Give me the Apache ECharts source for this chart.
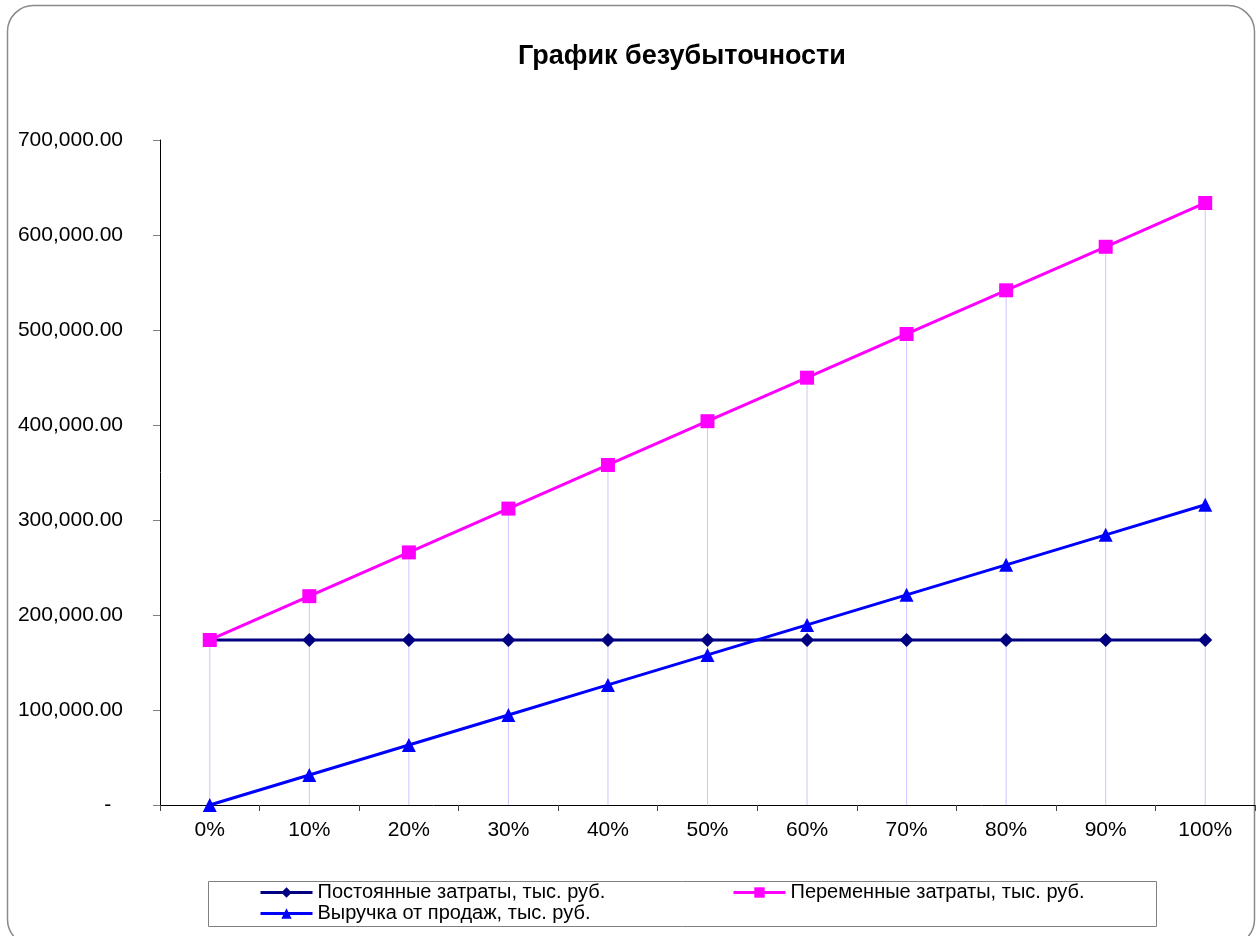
<!DOCTYPE html>
<html>
<head>
<meta charset="utf-8">
<script src="https://cdn.jsdelivr.net/npm/echarts@6/dist/echarts.min.js"></script>
<style>
  html, body { margin: 0; padding: 0; background: #fff; }
  #chart { width: 1259px; height: 936px; }
</style>
</head>
<body>
<div id="chart"></div>
<script>
// Sales volume share
const categories = ['0%', '10%', '20%', '30%', '40%', '50%', '60%', '70%', '80%', '90%', '100%'];

// Fixed costs, thousand roubles
const fixedCosts = [173700, 173700, 173700, 173700, 173700, 173700, 173700, 173700, 173700, 173700, 173700];

// Variable (total) costs, thousand roubles
const variableCosts = [173700, 219800, 265900, 312000, 357900, 404000, 449800, 495800, 541800, 587600, 633700];

// Sales revenue, thousand roubles
const revenue = [0, 31600, 63200, 94800, 126400, 158000, 189600, 221200, 252800, 284400, 316000];

const seriesNames = [
  'Постоянные затраты, тыс. руб.',
  'Переменные затраты, тыс. руб.',
  'Выручка от продаж, тыс. руб.'
];

const yTicks = { min: 0, max: 700000, interval: 100000 };

// Drop lines reach from the axis up to the highest point of each category
const dropTop = categories.map((_, i) => Math.max(fixedCosts[i], variableCosts[i], revenue[i]));

const FONT = "'Liberation Sans', Arial, sans-serif";

function formatMoney(v) {
  if (v === 0) return '-  ';
  const parts = v.toFixed(2).split('.');
  return parts[0].replace(/\B(?=(\d{3})+(?!\d))/g, ',') + '.' + parts[1];
}

const legendCommon = {
  orient: 'vertical',
  top: 882,
  padding: 0,
  itemGap: 0,
  itemWidth: 52,
  itemHeight: 13,
  z: 5,
  lineStyle: { width: 3 },
  textStyle: { fontFamily: FONT, fontSize: 20, color: '#000', lineHeight: 21 }
};

const chart = echarts.init(document.getElementById('chart'), null, { renderer: 'canvas' });

chart.setOption({
  backgroundColor: '#ffffff',
  animation: false,
  title: {
    text: 'График безубыточности',
    left: 677,
    top: 38,
    textAlign: 'center',
    textStyle: { fontFamily: FONT, fontSize: 27, fontWeight: 'bold', color: '#000' }
  },
  graphic: [
    {
      type: 'rect',
      z: -1,
      shape: { x: 7.5, y: 5.5, width: 1247, height: 940, r: 26 },
      style: { fill: 'none', stroke: '#8a8a8a', lineWidth: 1.5 }
    },
    {
      type: 'rect',
      z: 0,
      shape: { x: 208.5, y: 881.5, width: 948, height: 45 },
      style: { fill: '#fff', stroke: '#808080', lineWidth: 1 }
    }
  ],
  grid: {
    left: 160, top: 140, right: 4, bottom: 131,
    containLabel: false,
    outerBoundsMode: 'none'
  },
  legend: [
    Object.assign({}, legendCommon, { data: [seriesNames[0], seriesNames[2]], left: 259 }),
    Object.assign({}, legendCommon, { data: [seriesNames[1]], left: 732 })
  ],
  xAxis: {
    type: 'category',
    data: categories,
    boundaryGap: true,
    axisLine: { lineStyle: { color: '#000', width: 1 } },
    axisTick: { show: true, alignWithLabel: false, length: 6, lineStyle: { color: '#444' } },
    axisLabel: { margin: 15, fontFamily: FONT, fontSize: 21, color: '#000' },
    splitLine: { show: false }
  },
  yAxis: {
    type: 'value',
    min: yTicks.min,
    max: yTicks.max,
    interval: yTicks.interval,
    axisLine: { show: true, lineStyle: { color: '#000', width: 1 } },
    axisTick: { show: true, length: 7, lineStyle: { color: '#808080' } },
    axisLabel: { margin: 37, fontFamily: FONT, fontSize: 21, color: '#000', formatter: formatMoney },
    splitLine: { show: false }
  },
  series: [
    {
      name: 'drop',
      type: 'bar',
      data: dropTop,
      barWidth: 1,
      silent: true,
      z: 1,
      itemStyle: { color: '#d2c2ff' }
    },
    {
      name: seriesNames[0],
      type: 'line',
      data: fixedCosts,
      z: 3,
      symbol: 'diamond',
      symbolSize: 14,
      color: '#000080',
      lineStyle: { color: '#000080', width: 3 },
      itemStyle: { color: '#000080' }
    },
    {
      name: seriesNames[1],
      type: 'line',
      data: variableCosts,
      z: 4,
      symbol: 'rect',
      symbolSize: 14,
      color: '#ff00ff',
      lineStyle: { color: '#ff00ff', width: 3 },
      itemStyle: { color: '#ff00ff' }
    },
    {
      name: seriesNames[2],
      type: 'line',
      data: revenue,
      z: 5,
      symbol: 'triangle',
      symbolSize: 14,
      color: '#0000ff',
      lineStyle: { color: '#0000ff', width: 3 },
      itemStyle: { color: '#0000ff' }
    }
  ]
});
</script>
</body>
</html>
